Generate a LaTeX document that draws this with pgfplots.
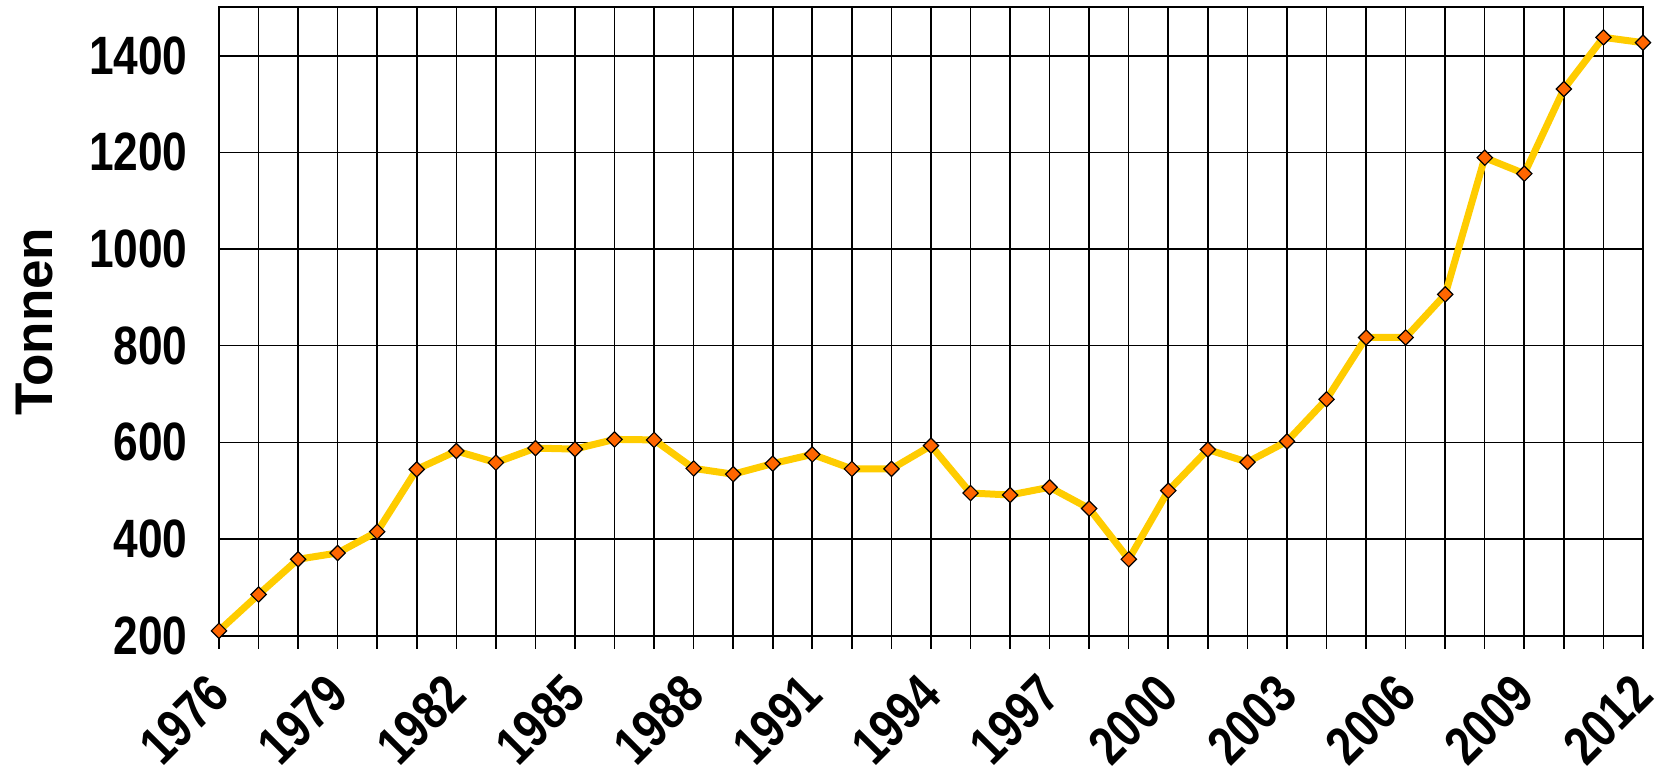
\documentclass[border=0pt]{standalone}
\usepackage{pgfplots}
\pgfplotsset{compat=1.18}
\usepackage{fontspec}
\setmainfont{Liberation Sans}
\newfontfamily\lblfont[FakeStretch=0.82]{Liberation Sans}
\definecolor{lineyellow}{HTML}{FFCC00}
\definecolor{markorange}{HTML}{FF6600}
\begin{document}
\begin{tikzpicture}
\useasboundingbox (-109.5pt,-73.2pt) rectangle (721pt,317.8pt);
\begin{axis}[
  at={(0pt,0pt)}, anchor=south west,
  scale only axis,
  width=712pt, height=314.1pt,
  xmin=1976, xmax=2012,
  ymin=200, ymax=1500,
  xtick={1976,1979,...,2012},
  minor xtick={1976,...,2012},
  ytick={200,400,...,1400},
  grid=both,
  major grid style={black, line width=0.8pt},
  minor grid style={black, line width=0.8pt},
  axis line style={black, line width=1pt},
  tick align=outside,
  xtick pos=bottom,
  ytick pos=left,
  major tick length=6.5pt,
  minor tick length=6.5pt,
  x tick style={black, line width=0.8pt},
  y tick style={draw=none},
  /pgf/number format/1000 sep={},
  /pgf/number format/assume math mode=true,
  tick label style={font=\lblfont\bfseries\fontsize{27}{32}\selectfont},
  yticklabel style={anchor=east, inner sep=0pt, xshift=-9pt},
  xticklabel style={yshift=-18pt, rotate=45, anchor=east, inner sep=0pt},
  ylabel={Tonnen},
  ylabel style={font=\bfseries\fontsize{26.5}{32}\selectfont, at={([xshift=-83pt]axis description cs:0,0.5)}, anchor=south, inner sep=0pt, rotate=0},
  clip=false,
]
\addplot[color=lineyellow, line width=3.5pt, mark=square*, mark size=2.7pt,
  mark options={fill=markorange, draw=black, line width=0.6pt, rotate=45}]
coordinates {
(1976,210) (1977,285) (1978,358) (1979,371) (1980,415) (1981,544)
(1982,582) (1983,558) (1984,588) (1985,586) (1986,606) (1987,605)
(1988,546) (1989,534) (1990,556) (1991,575) (1992,545) (1993,545)
(1994,593) (1995,495) (1996,491) (1997,507) (1998,463) (1999,358)
(2000,500) (2001,585) (2002,559) (2003,602) (2004,689) (2005,817)
(2006,817) (2007,906) (2008,1189) (2009,1156) (2010,1331) (2011,1438)
(2012,1427)
};
\end{axis}
\end{tikzpicture}
\end{document}
